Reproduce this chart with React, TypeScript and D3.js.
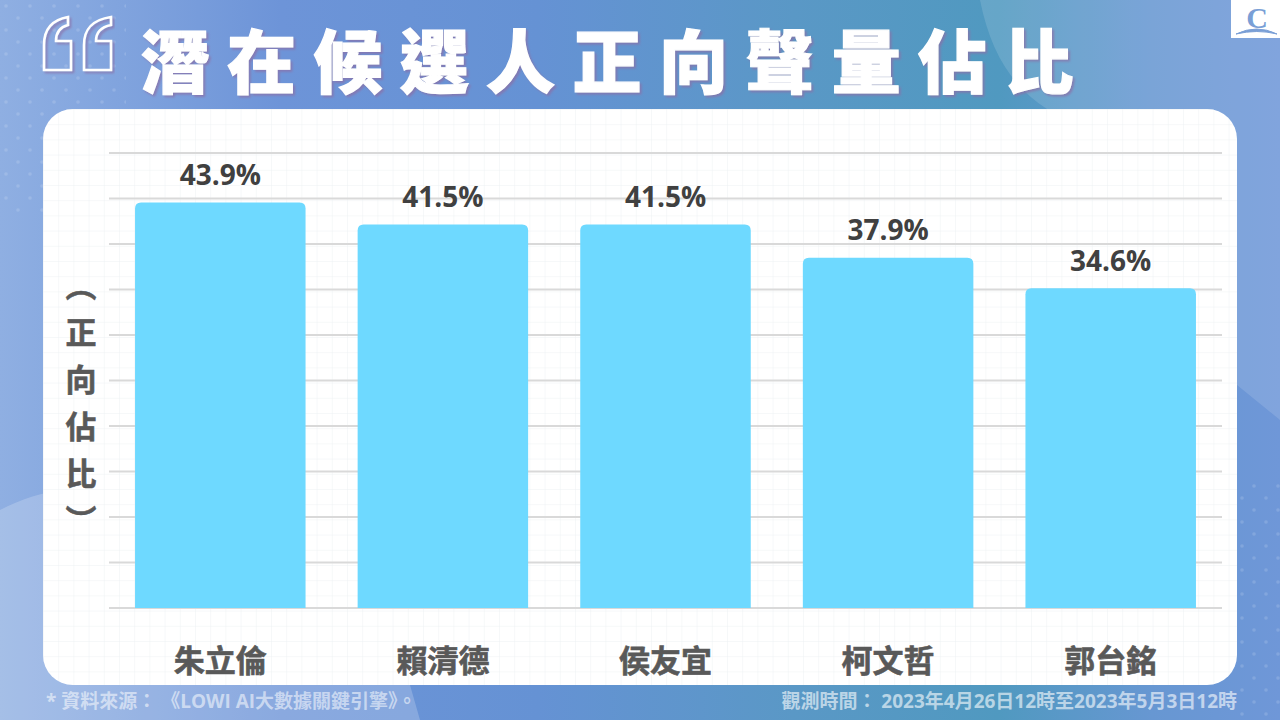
import React from 'react'
import * as d3 from 'd3'

const names = ['朱立倫', '賴清德', '侯友宜', '柯文哲', '郭台銘']
const values = [43.9, 41.5, 41.5, 37.9, 34.6]
const titleChars = ['潛', '在', '候', '選', '人', '正', '向', '聲', '量', '佔', '比']
const yLabelChars = ['︵', '正', '向', '佔', '比', '︶']
const gridSteps = d3.range(0, 11)

const sourceNote = '* 資料來源： 《LOWI AI大數據關鍵引擎》。'
const timeNote = '觀測時間： 2023年4月26日12時至2023年5月3日12時'

const FONT = '"Noto Sans CJK TC", "Noto Sans", sans-serif'
const NOTE_FONT = '"Open Sans", "Noto Sans CJK TC", sans-serif'

const x = d3.scaleBand().domain(names).range([109, 1222]).paddingInner(0.234).paddingOuter(0.117)
const y = d3.scaleLinear().domain([0, 49.25]).range([608, 153])
const yGrid = d3.scaleLinear().domain([0, 10]).range([608, 153])
const titleX = d3.scalePoint().domain(titleChars).range([175, 1039])
const yLabelY = d3.scalePoint().domain(yLabelChars).range([286, 521])

const barPath = (x0: number, y0: number, w: number, h: number, r = 6) => {
  const p = d3.path()
  p.moveTo(x0, y0 + h)
  p.lineTo(x0, y0 + r)
  p.quadraticCurveTo(x0, y0, x0 + r, y0)
  p.lineTo(x0 + w - r, y0)
  p.quadraticCurveTo(x0 + w, y0, x0 + w, y0 + r)
  p.lineTo(x0 + w, y0 + h)
  p.closePath()
  return p.toString()
}

const noteStyle = { fontKerning: 'none', fontFeatureSettings: '"palt" 0, "chws" 0' } as React.CSSProperties

export default function App() {
  return (
    <svg
      width={1280}
      height={720}
      viewBox="0 0 1280 720"
      style={{ position: 'absolute', left: 0, top: 0, fontFamily: FONT }}
    >
      <defs>
        <linearGradient id="bg" x1="0" y1="0" x2="1" y2="0">
          <stop offset="0" stopColor="#8fafe2" />
          <stop offset="0.22" stopColor="#6d94d8" />
          <stop offset="0.42" stopColor="#6592d4" />
          <stop offset="0.62" stopColor="#5a98c6" />
          <stop offset="0.78" stopColor="#5099c0" />
          <stop offset="0.9" stopColor="#6797d2" />
          <stop offset="1" stopColor="#6f97d8" />
        </linearGradient>
        <pattern id="dots" width="24" height="24" patternUnits="userSpaceOnUse">
          <circle cx="6" cy="6" r="1.8" fill="#ffffff" opacity={0.14} />
          <circle cx="18" cy="18" r="1.8" fill="#ffffff" opacity={0.14} />
        </pattern>
        <pattern id="minor" width="15.2" height="15.2" patternUnits="userSpaceOnUse" x="43" y="109">
          <path d="M15.2 0H0V15.2" fill="none" stroke="#e9edf0" strokeWidth={0.8} />
        </pattern>
        <filter id="soft" x="-5%" y="-5%" width="110%" height="120%">
          <feDropShadow dx="2" dy="2" stdDeviation="0.8" floodColor="#8a6fa8" floodOpacity={0.75} />
        </filter>
      </defs>

      <rect width={1280} height={720} fill="url(#bg)" />
      <path d="M980 0C990 50 1010 85 1047 109L1237 385L1280 420V0Z" fill="#ffffff" opacity={0.13} />
      <path d="M0 510C30 495 60 485 90 495C130 520 160 570 190 600C240 650 330 670 410 685L420 720H0Z" fill="#ffffff" opacity={0.2} />
      <rect x={0} y={0} width={126} height={216} fill="url(#dots)" />
      <rect x={1237} y={480} width={43} height={240} fill="url(#dots)" />

      {/* quote mark */}
      <g fill="none" stroke="#ffffff" strokeWidth={2.6} filter="url(#soft)">
        <path d="M44 70V45C44 30 51 20 68 17V25C60 27 56 32 56 41H71V70Z" />
        <path d="M84 70V45C84 30 91 20 111 17V25C101 27 96 32 96 41H111V70Z" />
      </g>

      {/* title */}
      <g filter="url(#soft)">
        {titleChars.map((c) => (
          <text
            key={c + titleX(c)}
            x={titleX(c)}
            y={88}
            textAnchor="middle"
            fontSize={69}
            fontWeight={900}
            fill="#ffffff"
            stroke="#ffffff"
            strokeWidth={1.2}
          >
            {c}
          </text>
        ))}
      </g>

      {/* logo */}
      <rect x={1231} y={0} width={49} height={38} fill="#ffffff" />
      <text x={1257} y={28} textAnchor="middle" fontSize={30} fontWeight={700} fontFamily="Liberation Serif" fill="#7a9fd6">
        C
      </text>
      <path d="M1236 34Q1257 24 1277 34Q1257 29 1236 34Z" fill="#7a9fd6" stroke="#7a9fd6" strokeWidth={1} />

      {/* panel */}
      <rect x={43} y={109} width={1194} height={576} rx={30} fill="#ffffff" />
      <rect x={43} y={109} width={1194} height={576} rx={30} fill="url(#minor)" />

      {gridSteps.map((t) => (
        <line key={t} x1={109} x2={1222} y1={yGrid(t)} y2={yGrid(t)} stroke="#d9d9d9" strokeWidth={2} />
      ))}

      {names.map((n, i) => (
        <g key={n}>
          <path d={barPath(x(n)!, y(values[i]), x.bandwidth(), y(0) - y(values[i]))} fill="#6ed9ff" />
          <text
            x={x(n)! + x.bandwidth() / 2}
            y={y(values[i]) - 17.5}
            textAnchor="middle"
            fontSize={28}
            fontWeight={700}
            fontFamily='"Open Sans", sans-serif'
            fill="#404040"
          >
            {values[i].toFixed(1)}%
          </text>
          <text
            x={x(n)! + x.bandwidth() / 2}
            y={672}
            textAnchor="middle"
            fontSize={31}
            fontWeight={700}
            fill="#595959"
            stroke="#595959"
            strokeWidth={0.6}
          >
            {n}
          </text>
        </g>
      ))}

      {yLabelChars.map((c) => (
        <text
          key={c}
          x={81}
          y={yLabelY(c)! + 11}
          textAnchor="middle"
          fontSize={31}
          fontWeight={700}
          fill="#595959"
          stroke="#595959"
          strokeWidth={0.6}
        >
          {c}
        </text>
      ))}

      <text x={46} y={708} fontSize={19} fontWeight={700} fontFamily={NOTE_FONT} fill="#ffffff" fillOpacity={0.55} style={noteStyle}>
        {sourceNote}
      </text>
      <text x={1237} y={708} textAnchor="end" fontSize={19} fontWeight={700} fontFamily={NOTE_FONT} fill="#ffffff" fillOpacity={0.6} style={noteStyle}>
        {timeNote}
      </text>
    </svg>
  )
}
